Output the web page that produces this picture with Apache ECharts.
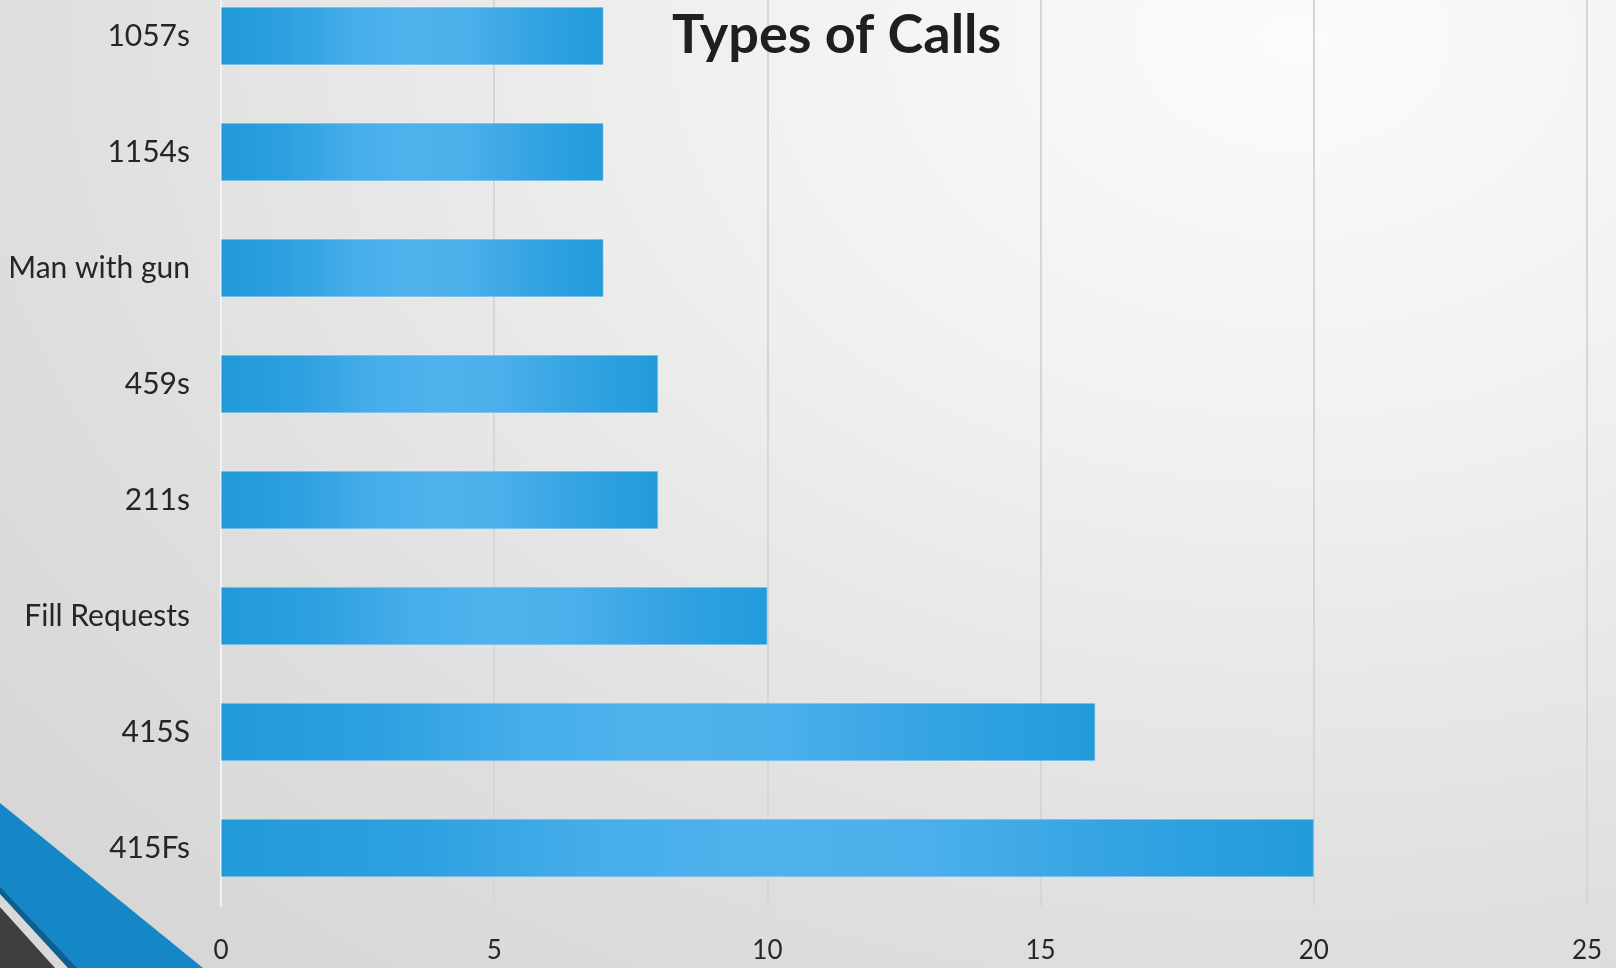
<!DOCTYPE html>
<html>
<head>
<meta charset="utf-8">
<script src="https://cdn.jsdelivr.net/npm/echarts@6/dist/echarts.min.js"></script>
<style>
  html, body { margin: 0; padding: 0; }
  body {
    width: 1616px;
    height: 968px;
    background: radial-gradient(ellipse at 80% 4%, #fbfbfb 0%, #f1f1f1 30%, #dedede 70%, #d4d4d4 100%);
  }
  #chart { width: 1616px; height: 968px; }
</style>
</head>
<body>
<div id="chart"></div>
<script>
// categories, top to bottom
const categories = ['1057s', '1154s', 'Man with gun', '459s', '211s', 'Fill Requests', '415S', '415Fs']
const counts = [7, 7, 7, 8, 8, 10, 16, 20]
const xTicks = [0, 5, 10, 15, 20, 25]

const chart = echarts.init(document.getElementById('chart'))

// light in the middle, darker at both ends
const barColor = new echarts.graphic.LinearGradient(0, 0, 1, 0, [
  { offset: 0, color: '#219ad9' },
  { offset: 0.18, color: '#2ea0e0' },
  { offset: 0.35, color: '#46aeea' },
  { offset: 0.5, color: '#50b2ec' },
  { offset: 0.65, color: '#4aafea' },
  { offset: 0.82, color: '#34a3e2' },
  { offset: 1, color: '#229bdb' }
])

const option = {
  backgroundColor: 'transparent',
  animation: false,
  title: {
    text: 'Types of Calls',
    left: 667,
    top: 4,
    textStyle: {
      fontFamily: 'Lato',
      fontWeight: 'bold',
      fontSize: 54,
      color: '#1f1f1f'
    }
  },
  grid: {
    left: 221,
    right: 29,
    top: -22,
    bottom: 62,
    outerBoundsMode: 'none'
  },
  xAxis: {
    type: 'value',
    min: xTicks[0],
    max: xTicks[xTicks.length - 1],
    interval: 5,
    axisLine: { show: false },
    axisTick: { show: false },
    axisLabel: {
      fontFamily: 'Lato',
      fontSize: 26,
      color: '#262626',
      margin: 32
    },
    splitLine: {
      lineStyle: { color: '#d6d6d6', width: 2 }
    }
  },
  yAxis: {
    type: 'category',
    data: categories,
    inverse: true,
    axisTick: { show: false },
    axisLine: {
      show: true,
      lineStyle: { color: 'rgba(255,255,255,0.7)', width: 2 }
    },
    axisLabel: {
      fontFamily: 'Lato',
      fontSize: 30,
      color: '#262626',
      margin: 31
    },
    splitLine: { show: false }
  },
  series: [
    {
      type: 'bar',
      data: counts,
      barCategoryGap: '50%',
      itemStyle: {
        color: barColor,
        borderColor: 'rgba(110,190,240,0.6)',
        borderWidth: 1
      }
    }
  ],
  graphic: [
    // corner decoration, bottom left
    {
      type: 'polygon',
      shape: { points: [[0, 803], [203, 968], [0, 968]] },
      style: { fill: '#1586c6' }
    },
    {
      type: 'polygon',
      shape: { points: [[0, 887], [77, 968], [0, 968]] },
      style: { fill: '#0e5f8e' }
    },
    {
      type: 'polygon',
      shape: { points: [[0, 894], [68, 968], [0, 968]] },
      style: { fill: '#d9d9d9' }
    },
    {
      type: 'polygon',
      shape: { points: [[0, 907], [55, 968], [0, 968]] },
      style: { fill: '#3f3f3f' }
    }
  ]
}

chart.setOption(option)
</script>
</body>
</html>
